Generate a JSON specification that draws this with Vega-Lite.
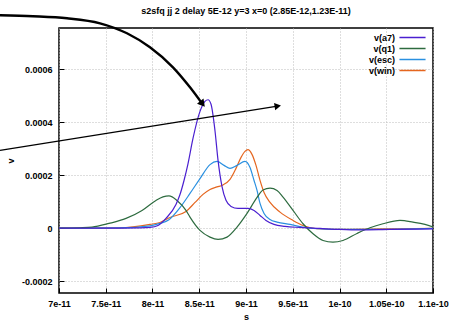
{
  "$schema": "https://vega.github.io/schema/vega-lite/v6.json",
  "width": 374,
  "height": 265,
  "autosize": {"type": "none"},
  "padding": {"left": 59, "top": 28, "right": 17, "bottom": 32},
  "background": "white",
  "title": {"text": "s2sfq jj 2 delay 5E-12 y=3 x=0 (2.85E-12,1.23E-11)", "font": "Liberation Sans", "fontSize": 9, "fontWeight": "bold", "color": "black", "anchor": "middle", "frame": "group", "offset": -6},
  "config": {
    "view": {"stroke": "black", "strokeWidth": 1.5},
    "axis": {"labelFont": "Liberation Sans", "labelFontSize": 9, "labelFontWeight": "bold", "labelColor": "black", "titleFont": "Liberation Sans", "titleFontSize": 9, "titleFontWeight": "bold", "titleColor": "black", "domain": false, "grid": true, "gridColor": "#bdbdbd", "gridDash": [1, 2], "gridWidth": 1, "ticks": true, "tickSize": -5, "tickColor": "black", "tickWidth": 1},
    "legend": {"labelFont": "Liberation Sans", "labelFontSize": 9, "labelFontWeight": "bold", "labelColor": "black", "symbolType": "M-2.9,0H2.9", "symbolStrokeWidth": 1.5, "symbolSize": 81, "rowPadding": 0, "padding": 0, "labelAlign": "right", "labelOffset": -23}
  },
  "datasets": {
    "curves": [
      {"t": 7.0e-11, "v": 0, "s": "v(win)"},
      {"t": 7.652e-11, "v": 0.0000008, "s": "v(win)"},
      {"t": 7.973e-11, "v": 0.000014, "s": "v(win)"},
      {"t": 8.080e-11, "v": 0.0000215, "s": "v(win)"},
      {"t": 8.187e-11, "v": 0.0000404, "s": "v(win)"},
      {"t": 8.358e-11, "v": 0.0000631, "s": "v(win)"},
      {"t": 8.455e-11, "v": 0.0000971, "s": "v(win)"},
      {"t": 8.540e-11, "v": 0.0001274, "s": "v(win)"},
      {"t": 8.615e-11, "v": 0.0001463, "s": "v(win)"},
      {"t": 8.690e-11, "v": 0.0001557, "s": "v(win)"},
      {"t": 8.754e-11, "v": 0.0001633, "s": "v(win)"},
      {"t": 8.829e-11, "v": 0.0001841, "s": "v(win)"},
      {"t": 8.893e-11, "v": 0.0002257, "s": "v(win)"},
      {"t": 8.947e-11, "v": 0.0002672, "s": "v(win)"},
      {"t": 8.989e-11, "v": 0.0002899, "s": "v(win)"},
      {"t": 9.021e-11, "v": 0.0002964, "s": "v(win)"},
      {"t": 9.064e-11, "v": 0.0002786, "s": "v(win)"},
      {"t": 9.107e-11, "v": 0.000237, "s": "v(win)"},
      {"t": 9.150e-11, "v": 0.0001803, "s": "v(win)"},
      {"t": 9.193e-11, "v": 0.0001349, "s": "v(win)"},
      {"t": 9.257e-11, "v": 0.0000971, "s": "v(win)"},
      {"t": 9.364e-11, "v": 0.0000605, "s": "v(win)"},
      {"t": 9.503e-11, "v": 0.0000291, "s": "v(win)"},
      {"t": 9.610e-11, "v": 0.0000102, "s": "v(win)"},
      {"t": 9.759e-11, "v": -0.0000023, "s": "v(win)"},
      {"t": 1.0005e-10, "v": -0.0000049, "s": "v(win)"},
      {"t": 1.0433e-10, "v": -0.000003, "s": "v(win)"},
      {"t": 1.1e-10, "v": -0.0000011, "s": "v(win)"},

      {"t": 7.0e-11, "v": 0, "s": "v(esc)"},
      {"t": 7.652e-11, "v": 0.0000008, "s": "v(esc)"},
      {"t": 7.973e-11, "v": 0.0000083, "s": "v(esc)"},
      {"t": 8.080e-11, "v": 0.0000178, "s": "v(esc)"},
      {"t": 8.176e-11, "v": 0.000032, "s": "v(esc)"},
      {"t": 8.294e-11, "v": 0.0000775, "s": "v(esc)"},
      {"t": 8.401e-11, "v": 0.000131, "s": "v(esc)"},
      {"t": 8.508e-11, "v": 0.000187, "s": "v(esc)"},
      {"t": 8.615e-11, "v": 0.00024, "s": "v(esc)"},
      {"t": 8.690e-11, "v": 0.000252, "s": "v(esc)"},
      {"t": 8.765e-11, "v": 0.000237, "s": "v(esc)"},
      {"t": 8.829e-11, "v": 0.0002257, "s": "v(esc)"},
      {"t": 8.904e-11, "v": 0.000237, "s": "v(esc)"},
      {"t": 8.989e-11, "v": 0.000252, "s": "v(esc)"},
      {"t": 9.043e-11, "v": 0.000229, "s": "v(esc)"},
      {"t": 9.086e-11, "v": 0.00018, "s": "v(esc)"},
      {"t": 9.118e-11, "v": 0.0001425, "s": "v(esc)"},
      {"t": 9.150e-11, "v": 0.0000934, "s": "v(esc)"},
      {"t": 9.193e-11, "v": 0.0000556, "s": "v(esc)"},
      {"t": 9.257e-11, "v": 0.0000329, "s": "v(esc)"},
      {"t": 9.332e-11, "v": 0.0000227, "s": "v(esc)"},
      {"t": 9.471e-11, "v": 0.000014, "s": "v(esc)"},
      {"t": 9.610e-11, "v": 0.0000038, "s": "v(esc)"},
      {"t": 9.759e-11, "v": -0.0000023, "s": "v(esc)"},
      {"t": 1.0005e-10, "v": -0.0000049, "s": "v(esc)"},
      {"t": 1.0433e-10, "v": -0.0000049, "s": "v(esc)"},
      {"t": 1.1e-10, "v": -0.0000011, "s": "v(esc)"},

      {"t": 7.0e-11, "v": 0, "s": "v(q1)"},
      {"t": 7.225e-11, "v": 0.0000015, "s": "v(q1)"},
      {"t": 7.353e-11, "v": 0.0000038, "s": "v(q1)"},
      {"t": 7.535e-11, "v": 0.0000178, "s": "v(q1)"},
      {"t": 7.717e-11, "v": 0.0000367, "s": "v(q1)"},
      {"t": 7.888e-11, "v": 0.0000669, "s": "v(q1)"},
      {"t": 8.037e-11, "v": 0.0001047, "s": "v(q1)"},
      {"t": 8.112e-11, "v": 0.0001179, "s": "v(q1)"},
      {"t": 8.176e-11, "v": 0.0001217, "s": "v(q1)"},
      {"t": 8.262e-11, "v": 0.0001047, "s": "v(q1)"},
      {"t": 8.358e-11, "v": 0.0000669, "s": "v(q1)"},
      {"t": 8.401e-11, "v": 0.0000416, "s": "v(q1)"},
      {"t": 8.508e-11, "v": -0.0000087, "s": "v(q1)"},
      {"t": 8.615e-11, "v": -0.000034, "s": "v(q1)"},
      {"t": 8.701e-11, "v": -0.0000427, "s": "v(q1)"},
      {"t": 8.797e-11, "v": -0.000034, "s": "v(q1)"},
      {"t": 8.904e-11, "v": 0.0000038, "s": "v(q1)"},
      {"t": 9.011e-11, "v": 0.0000556, "s": "v(q1)"},
      {"t": 9.118e-11, "v": 0.000116, "s": "v(q1)"},
      {"t": 9.182e-11, "v": 0.0001444, "s": "v(q1)"},
      {"t": 9.257e-11, "v": 0.0001512, "s": "v(q1)"},
      {"t": 9.332e-11, "v": 0.0001425, "s": "v(q1)"},
      {"t": 9.396e-11, "v": 0.0001172, "s": "v(q1)"},
      {"t": 9.503e-11, "v": 0.0000669, "s": "v(q1)"},
      {"t": 9.610e-11, "v": 0.0000166, "s": "v(q1)"},
      {"t": 9.717e-11, "v": -0.0000212, "s": "v(q1)"},
      {"t": 9.824e-11, "v": -0.0000465, "s": "v(q1)"},
      {"t": 9.930e-11, "v": -0.0000529, "s": "v(q1)"},
      {"t": 1.0037e-10, "v": -0.0000465, "s": "v(q1)"},
      {"t": 1.0187e-10, "v": -0.00002, "s": "v(q1)"},
      {"t": 1.0326e-10, "v": 0.0000015, "s": "v(q1)"},
      {"t": 1.0465e-10, "v": 0.0000166, "s": "v(q1)"},
      {"t": 1.0647e-10, "v": 0.0000291, "s": "v(q1)"},
      {"t": 1.0786e-10, "v": 0.0000227, "s": "v(q1)"},
      {"t": 1.0914e-10, "v": 0.000014, "s": "v(q1)"},
      {"t": 1.1e-10, "v": 0.0000045, "s": "v(q1)"},

      {"t": 7.0e-11, "v": 0, "s": "v(a7)"},
      {"t": 7.439e-11, "v": 0, "s": "v(a7)"},
      {"t": 7.866e-11, "v": 0.000001, "s": "v(a7)"},
      {"t": 7.973e-11, "v": 0.0000026, "s": "v(a7)"},
      {"t": 8.059e-11, "v": 0.0000102, "s": "v(a7)"},
      {"t": 8.144e-11, "v": 0.0000367, "s": "v(a7)"},
      {"t": 8.251e-11, "v": 0.0000896, "s": "v(a7)"},
      {"t": 8.294e-11, "v": 0.000127, "s": "v(a7)"},
      {"t": 8.337e-11, "v": 0.00018, "s": "v(a7)"},
      {"t": 8.380e-11, "v": 0.000244, "s": "v(a7)"},
      {"t": 8.433e-11, "v": 0.000339, "s": "v(a7)"},
      {"t": 8.508e-11, "v": 0.000441, "s": "v(a7)"},
      {"t": 8.561e-11, "v": 0.000479, "s": "v(a7)"},
      {"t": 8.594e-11, "v": 0.000485, "s": "v(a7)"},
      {"t": 8.626e-11, "v": 0.000468, "s": "v(a7)"},
      {"t": 8.668e-11, "v": 0.000369, "s": "v(a7)"},
      {"t": 8.701e-11, "v": 0.000256, "s": "v(a7)"},
      {"t": 8.743e-11, "v": 0.000158, "s": "v(a7)"},
      {"t": 8.786e-11, "v": 0.000105, "s": "v(a7)"},
      {"t": 8.840e-11, "v": 0.000082, "s": "v(a7)"},
      {"t": 8.914e-11, "v": 0.0000745, "s": "v(a7)"},
      {"t": 9.021e-11, "v": 0.0000745, "s": "v(a7)"},
      {"t": 9.086e-11, "v": 0.0000669, "s": "v(a7)"},
      {"t": 9.150e-11, "v": 0.000048, "s": "v(a7)"},
      {"t": 9.214e-11, "v": 0.0000291, "s": "v(a7)"},
      {"t": 9.299e-11, "v": 0.000014, "s": "v(a7)"},
      {"t": 9.417e-11, "v": 0.0000064, "s": "v(a7)"},
      {"t": 9.578e-11, "v": 0.0000026, "s": "v(a7)"},
      {"t": 9.791e-11, "v": -0.0000011, "s": "v(a7)"},
      {"t": 1.0005e-10, "v": -0.0000049, "s": "v(a7)"},
      {"t": 1.0219e-10, "v": -0.0000068, "s": "v(a7)"},
      {"t": 1.054e-10, "v": -0.0000049, "s": "v(a7)"},
      {"t": 1.1e-10, "v": -0.000003, "s": "v(a7)"}
    ],
    "curvedArrow": [
      {"t": 6.369e-11, "v": 0.000804},
      {"t": 6.722e-11, "v": 0.0008003},
      {"t": 7.086e-11, "v": 0.0007928},
      {"t": 7.439e-11, "v": 0.0007738},
      {"t": 7.727e-11, "v": 0.000736},
      {"t": 7.973e-11, "v": 0.0006831},
      {"t": 8.219e-11, "v": 0.0006075},
      {"t": 8.401e-11, "v": 0.0005319},
      {"t": 8.529e-11, "v": 0.0004714}
    ],
    "curvedHead": [{"t": 8.535e-11, "v": 0.000469}],
    "straightArrow": [
      {"t": 6.369e-11, "v": 0.0002937},
      {"t": 9.321e-11, "v": 0.00046}
    ],
    "straightHead": [{"t": 9.34e-11, "v": 0.000461}]
  },
  "layer": [
    {
      "data": {"name": "curves"},
      "mark": {"type": "line", "interpolate": "monotone", "strokeWidth": 1.2, "clip": true},
      "encoding": {
        "x": {"field": "t", "type": "quantitative", "title": "s",
          "scale": {"domain": [7e-11, 1.1e-10], "nice": false, "zero": false},
          "axis": {"values": [7e-11, 7.5e-11, 8e-11, 8.5e-11, 9e-11, 9.5e-11, 1e-10, 1.05e-10, 1.1e-10], "labelExpr": "format(datum.value, '.3~e')", "labelPadding": 11, "titlePadding": 4, "labelFlush": false}},
        "y": {"field": "v", "type": "quantitative", "title": "v",
          "scale": {"domain": [-0.000245, 0.000756], "nice": false, "zero": false},
          "axis": {"values": [-0.0002, 0, 0.0002, 0.0004, 0.0006], "labelExpr": "replace(format(datum.value, '.4~f'), '\u2212', '-')", "labelPadding": 12, "titlePadding": 6}},
        "color": {"field": "s", "type": "nominal",
          "scale": {"domain": ["v(a7)", "v(q1)", "v(esc)", "v(win)"], "range": ["#4a1fd0", "#2d6b3f", "#2a90e0", "#e5661f"]},
          "legend": {"title": null, "orient": "top-right", "offset": 4}}
      }
    },
    {
      "data": {"name": "curvedArrow"},
      "mark": {"type": "line", "interpolate": "monotone", "color": "black", "strokeWidth": 2.4, "clip": false},
      "encoding": {"x": {"field": "t", "type": "quantitative"}, "y": {"field": "v", "type": "quantitative"}}
    },
    {
      "data": {"name": "curvedHead"},
      "mark": {"type": "point", "shape": "triangle-up", "filled": true, "color": "black", "opacity": 1, "size": 70, "angle": 141, "clip": false},
      "encoding": {"x": {"field": "t", "type": "quantitative"}, "y": {"field": "v", "type": "quantitative"}}
    },
    {
      "data": {"name": "straightArrow"},
      "mark": {"type": "line", "color": "black", "strokeWidth": 1.3, "clip": false},
      "encoding": {"x": {"field": "t", "type": "quantitative"}, "y": {"field": "v", "type": "quantitative"}}
    },
    {
      "data": {"name": "straightHead"},
      "mark": {"type": "point", "shape": "triangle-up", "filled": true, "color": "black", "opacity": 1, "size": 55, "angle": 81, "clip": false},
      "encoding": {"x": {"field": "t", "type": "quantitative"}, "y": {"field": "v", "type": "quantitative"}}
    }
  ]
}
